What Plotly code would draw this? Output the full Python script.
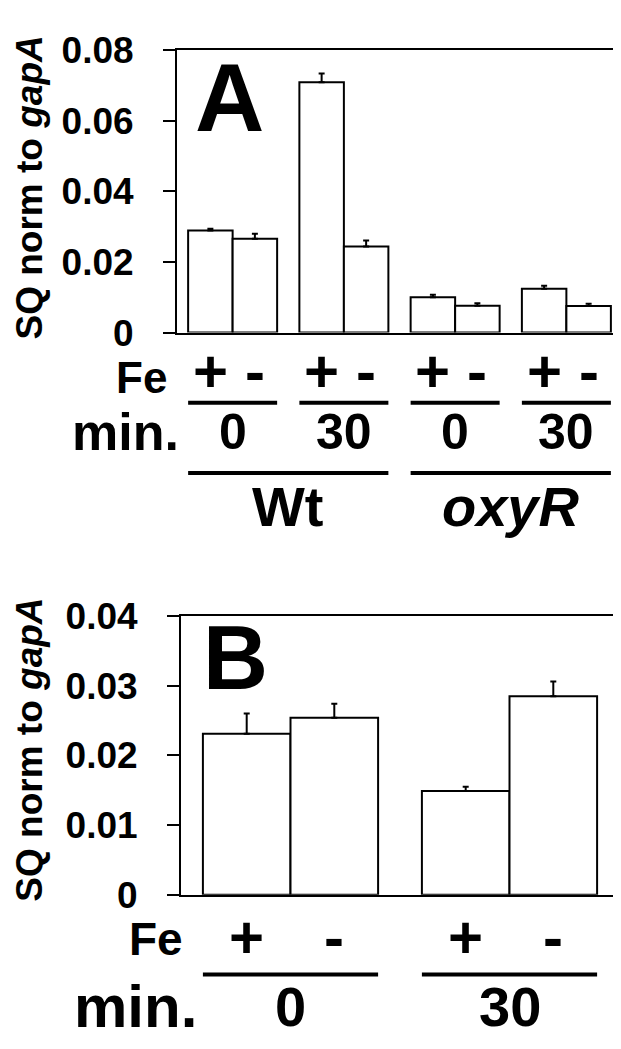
import plotly.graph_objects as go

# ---------------- data ----------------
groups_A = ["Wt 0", "Wt 30", "oxyR 0", "oxyR 30"]
fe_plus_A = [0.0289, 0.0709, 0.0100, 0.0124]
fe_plus_err_A = [0.0005, 0.0025, 0.0007, 0.0009]
fe_minus_A = [0.0266, 0.0244, 0.0076, 0.0075]
fe_minus_err_A = [0.0014, 0.0017, 0.0007, 0.0007]

groups_B = ["0", "30"]
fe_plus_B = [0.0231, 0.0149]
fe_plus_err_B = [0.0029, 0.0006]
fe_minus_B = [0.0254, 0.0285]
fe_minus_err_B = [0.0020, 0.0021]

ticks_A = [0, 0.02, 0.04, 0.06, 0.08]
ticklabels_A = ["0", "0.02", "0.04", "0.06", "0.08"]
ticks_B = [0, 0.01, 0.02, 0.03, 0.04]
ticklabels_B = ["0", "0.01", "0.02", "0.03", "0.04"]

fe_signs = ["+", "-"]
min_labels_A = ["0", "30", "0", "30"]
strain_labels = ["Wt", "<i>oxyR</i>"]
min_labels_B = ["0", "30"]

# ---------------- layout helpers ----------------
W, H = 621, 1049
FONT = "Liberation Sans, Arial, sans-serif"


def py(px):
    return 1 - px / H


def pxx(px):
    return px / W


fig = go.Figure()

bar_style = dict(marker=dict(color="white", line=dict(color="black", width=2)),
                 showlegend=False, hoverinfo="skip")


def err(arr):
    return dict(type="data", array=arr, arrayminus=[0] * len(arr), symmetric=False,
                color="black", thickness=2, width=3)


fig.add_trace(go.Bar(x=groups_A, y=fe_plus_A, error_y=err(fe_plus_err_A),
                     xaxis="x", yaxis="y", **bar_style))
fig.add_trace(go.Bar(x=groups_A, y=fe_minus_A, error_y=err(fe_minus_err_A),
                     xaxis="x", yaxis="y", **bar_style))
fig.add_trace(go.Bar(x=groups_B, y=fe_plus_B, error_y=err(fe_plus_err_B),
                     xaxis="x2", yaxis="y2", **bar_style))
fig.add_trace(go.Bar(x=groups_B, y=fe_minus_B, error_y=err(fe_minus_err_B),
                     xaxis="x2", yaxis="y2", **bar_style))

axis_common = dict(showline=True, linecolor="black", linewidth=2, mirror=True,
                   showgrid=False, zeroline=False)

fig.update_layout(
    width=W, height=H,
    margin=dict(l=0, r=0, t=0, b=0),
    paper_bgcolor="white", plot_bgcolor="white",
    barmode="group", bargap=0.2, bargroupgap=0,
    font=dict(family=FONT, color="black"),
    xaxis=dict(domain=[pxx(169), pxx(614)], anchor="y", showticklabels=False,
               ticks="", range=[-0.5, 3.5], **axis_common),
    yaxis=dict(domain=[py(317), py(23)], anchor="x", range=[0, 0.08],
               tickvals=ticks_A, ticktext=ticklabels_A, ticks="outside",
               ticklen=12, tickwidth=2, tickcolor="black", ticklabelstandoff=22,
               tickfont=dict(size=37, weight="bold", family=FONT), **axis_common),
    xaxis2=dict(domain=[pxx(173), pxx(611)], anchor="y2", showticklabels=False,
                ticks="", range=[-0.5, 1.5], **axis_common),
    yaxis2=dict(domain=[py(902), py(612)], anchor="x2", range=[0, 0.04],
                tickvals=ticks_B, ticktext=ticklabels_B, ticks="outside",
                ticklen=12, tickwidth=2, tickcolor="black", ticklabelstandoff=22,
                tickfont=dict(size=37, weight="bold", family=FONT), **axis_common),
)

ann = []
shapes = []


def text(x, y, s, size, xref="paper", xanchor="center", **kw):
    ann.append(dict(x=x, y=y, xref=xref, yref="paper", text=s, showarrow=False,
                    xanchor=xanchor, yanchor="middle",
                    font=dict(size=size, family=FONT, color="black", weight="bold"), **kw))


def hline(x0, x1, y, xref):
    shapes.append(dict(type="line", xref=xref, yref="paper", x0=x0, x1=x1,
                       y0=py(y), y1=py(y), line=dict(color="black", width=4)))


# y-axis titles
text(pxx(22), py(166), "SQ norm to <i>gapA</i>", 37, textangle=-90)
text(pxx(22), py(751), "SQ norm to <i>gapA</i>", 37, textangle=-90)

# panel letters
text(pxx(221), py(72), "A", 96)
text(pxx(227), py(656), "B", 90)

# ---- panel A labels ----
text(pxx(161), py(364), "Fe", 44, xanchor="right")
for i in range(len(groups_A)):
    text(i - 0.2, py(357), fe_signs[0], 60, xref="x")
    text(i + 0.2, py(357), fe_signs[1], 60, xref="x")
    hline(i - 0.4, i + 0.4, 390, "x")
    text(i, py(420), min_labels_A[i], 50, xref="x")
text(pxx(173), py(420), "min.", 52, xanchor="right")
for j, lab in enumerate(strain_labels):
    hline(2 * j - 0.4, 2 * j + 1.4, 463, "x")
    text(2 * j + 0.5, py(498), lab, 56, xref="x")

# ---- panel B labels ----
text(pxx(177), py(948), "Fe", 46, xanchor="right")
for i in range(len(groups_B)):
    text(i - 0.2, py(947), fe_signs[0], 60, xref="x2")
    text(i + 0.2, py(947), fe_signs[1], 60, xref="x2")
    hline(i - 0.4, i + 0.4, 985, "x2")
    text(i, py(1018), min_labels_B[i], 56, xref="x2")
text(pxx(191), py(1018), "min.", 60, xanchor="right")

fig.update_layout(annotations=ann, shapes=shapes)

fig.write_html("out.html")
